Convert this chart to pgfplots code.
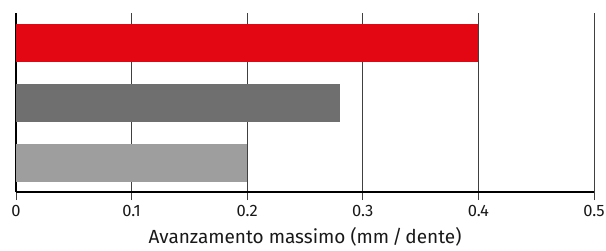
\documentclass[border=0pt]{standalone}
\usepackage{pgfplots}
\pgfplotsset{compat=1.18}
\usepackage{fontspec}
\setmainfont{Fira Sans}
\definecolor{cred}{RGB}{227,6,19}
\definecolor{cdark}{RGB}{111,111,111}
\definecolor{clight}{RGB}{158,158,158}
\begin{document}
\begin{tikzpicture}
\path[use as bounding box] (-16pt,-58pt) rectangle (590pt,192pt);
\begin{axis}[
  scale only axis,
  width=578pt, height=179pt,
  xmin=0, xmax=0.5,
  ymin=-0.4833, ymax=2.5,
  xtick={0,0.1,0.2,0.3,0.4,0.5},
  xticklabels={0,0.1,0.2,0.3,0.4,0.5},
  ytick=\empty,
  axis x line*=bottom,
  axis y line*=left,
  axis line style={line width=1.6pt, black, -},
  xmajorgrids,
  major grid style={line width=0.6pt, black!75},
  tick align=outside,
  major tick length=8pt,
  xtick style={line width=0.6pt, black!75},
  xticklabel style={font=\fontsize{16.5}{18}\selectfont, text=black!90, yshift=-2pt},
  xlabel={Avanzamento massimo (mm\,/\,dente)},
  xlabel style={font=\fontsize{19}{21}\selectfont, text=black!90, yshift=-4pt},
  xbar, bar width=38pt, bar shift=0pt,
  clip=false,
]
\addplot[draw=none, fill=clight, bar shift=0pt] coordinates {(0.2,0)};
\addplot[draw=none, fill=cdark, bar shift=0pt] coordinates {(0.28,1)};
\addplot[draw=none, fill=cred, bar shift=0pt] coordinates {(0.4,2)};
\end{axis}
\end{tikzpicture}
\end{document}
